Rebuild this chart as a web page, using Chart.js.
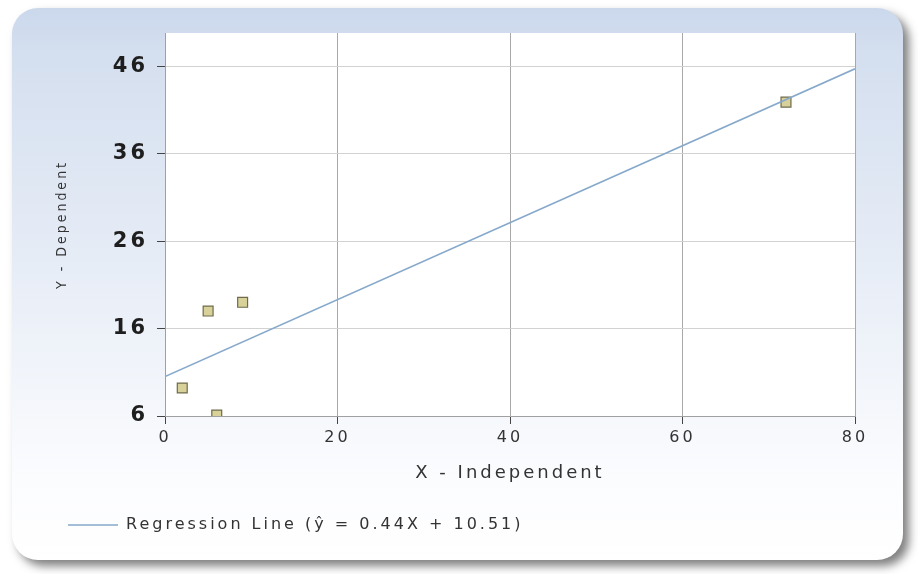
<!DOCTYPE html>
<html>
<head>
<meta charset="utf-8">
<script src="https://cdn.jsdelivr.net/npm/chart.js@4.4.1/dist/chart.umd.min.js"></script>
<style>
  html, body { margin: 0; padding: 0; background: #ffffff; }
  #wrap { width: 918px; height: 574px; }
</style>
</head>
<body>
<div id="wrap"><canvas id="regression-chart" width="918" height="574"></canvas></div>
<script>
// observed points
var xValues = [2, 5, 6, 9, 72];
var yValues = [9.2, 18.0, 6.1, 19.0, 41.9];

// regression line end points (y = 0.44x + 10.51)
var lineX = [0, 80];
var lineY = [10.51, 45.71];

var yTicks = [6, 16, 26, 36, 46];
var xTicks = [0, 20, 40, 60, 80];
var legendText = 'Regression Line (\u0177 = 0.44X + 10.51)';

var points = xValues.map(function (x, i) { return { x: x, y: yValues[i] }; });
var linePoints = lineX.map(function (x, i) { return { x: x, y: lineY[i] }; });

// the original text is set wide, so space the letters out a bit
function spaceLetters(chart) {
  if ('letterSpacing' in chart.ctx) chart.ctx.letterSpacing = '3px';
}

// panel with rounded corners, soft shadow and white plot area
var panelPlugin = {
  id: 'panel',
  beforeLayout: spaceLetters,
  beforeDraw: function (chart) {
    spaceLetters(chart);
    var ctx = chart.ctx, a = chart.chartArea;
    var x0 = 12, y0 = 8, x1 = 903, y1 = 560, r = 26;
    ctx.save();
    ctx.beginPath();
    ctx.moveTo(x0 + r, y0);
    ctx.arcTo(x1, y0, x1, y1, r);
    ctx.arcTo(x1, y1, x0, y1, r);
    ctx.arcTo(x0, y1, x0, y0, r);
    ctx.arcTo(x0, y0, x1, y0, r);
    ctx.closePath();
    var g = ctx.createLinearGradient(0, y0, 0, y1);
    g.addColorStop(0, '#cbd8ec');
    g.addColorStop(0.08, '#d4dfef');
    g.addColorStop(0.45, '#e6ecf6');
    g.addColorStop(0.85, '#fbfcfe');
    g.addColorStop(1, '#ffffff');
    ctx.shadowColor = 'rgba(0,0,0,0.5)';
    ctx.shadowBlur = 10;
    ctx.shadowOffsetX = 6;
    ctx.shadowOffsetY = 6;
    ctx.fillStyle = g;
    ctx.fill();
    ctx.shadowColor = 'transparent';
    ctx.fillStyle = '#ffffff';
    ctx.fillRect(a.left, a.top, a.right - a.left, a.bottom - a.top);
    ctx.restore();
  }
};

new Chart('regression-chart', {
  type: 'scatter',
  data: {
    datasets: [{
      type: 'line',
      label: legendText,
      data: linePoints,
      borderColor: '#86a9cb',
      backgroundColor: '#86a9cb',
      borderWidth: 1.6,
      pointRadius: 0,
      fill: false
    }, {
      label: 'Data',
      data: points,
      pointStyle: 'rect',
      pointRadius: 7,
      backgroundColor: '#d8d29a',
      borderColor: '#6e6a4c',
      borderWidth: 1.2
    }]
  },
  options: {
    responsive: false,
    animation: false,
    layout: { padding: { left: 47, right: 63, top: 33, bottom: 31 } },
    plugins: {
      tooltip: { enabled: false },
      legend: {
        position: 'bottom',
        align: 'start',
        labels: {
          filter: function (item) { return item.datasetIndex === 0; },
          usePointStyle: true,
          pointStyle: 'line',
          pointStyleWidth: 50,
          padding: 21,
          color: '#333333',
          font: { family: 'DejaVu Sans', size: 16 }
        }
      }
    },
    scales: {
      x: {
        type: 'linear',
        min: 0,
        max: 80,
        afterBuildTicks: function (s) { s.ticks = xTicks.map(function (v) { return { value: v }; }); },
        afterFit: function (s) { s.height = 80; },
        grid: { color: '#a8a8a8', tickColor: '#444444', tickLength: 8, lineWidth: 1 },
        border: { color: '#a0a0a0' },
        ticks: { padding: 4, color: '#333333', font: { family: 'DejaVu Sans', size: 16 } },
        title: {
          display: true,
          text: 'X - Independent',
          color: '#333333',
          padding: { top: 0, bottom: 12 },
          font: { family: 'DejaVu Sans', size: 18 }
        }
      },
      y: {
        type: 'linear',
        min: 6,
        max: 49.8,
        afterBuildTicks: function (s) { s.ticks = yTicks.map(function (v) { return { value: v }; }); },
        afterFit: function (s) { s.width = 118; },
        grid: { color: '#d2d2d2', tickColor: '#444444', tickLength: 8, lineWidth: 1 },
        border: { color: '#a0a0a0' },
        ticks: { padding: 9, color: '#1e1e1e', font: { family: 'DejaVu Sans', size: 21, weight: 'bold' } },
        title: {
          display: true,
          text: 'Y - Dependent',
          color: '#333333',
          padding: { top: 7, bottom: 0 },
          font: { family: 'DejaVu Sans Condensed', size: 14 }
        }
      }
    }
  },
  plugins: [panelPlugin]
});
</script>
</body>
</html>
